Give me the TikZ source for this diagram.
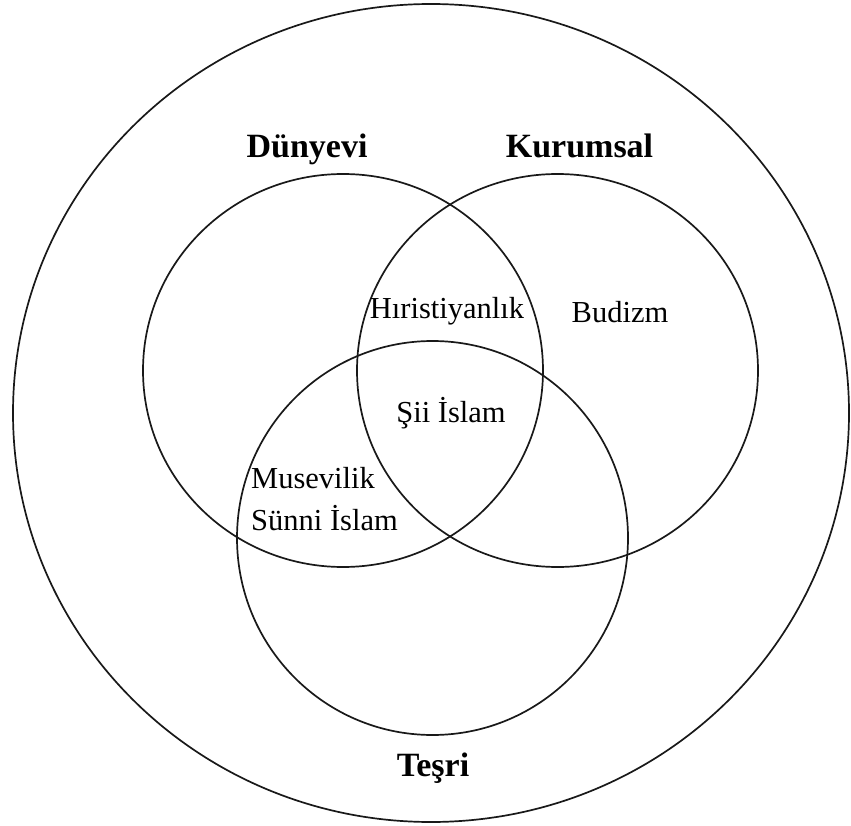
\documentclass[tikz,border=0pt]{standalone}
\usepackage{fontspec}
\setmainfont{Liberation Serif}
\begin{document}
\begin{tikzpicture}[x=1pt,y=-1pt,
  ring/.style={draw=black!90,line width=1.7pt},
  setlabel/.style={inner sep=0pt,anchor=base,font=\fontsize{34}{40}\selectfont\bfseries},
  member/.style={inner sep=0pt,anchor=base,font=\fontsize{30.5}{36}\selectfont},
  memberleft/.style={member,anchor=base west}]
\useasboundingbox[fill=white] (0,0) rectangle (851,826);
% circles
\draw[ring] (431,413) ellipse [x radius=418, y radius=409];
\draw[ring] (343,370.5) ellipse [x radius=200, y radius=196.5];
\draw[ring] (557.5,370.5) ellipse [x radius=200.5, y radius=196.5];
\draw[ring] (432.5,538) ellipse [x radius=195.5, y radius=197];
% set labels
\node[setlabel] (dunyevi) at (307,158) {Dünyevi};
\node[setlabel] (kurumsal) at (579.5,158) {Kurumsal};
\node[setlabel] (tesri) at (433,776) {Teşri};
% members
\node[member] (hiristiyanlik) at (447,318) {Hıristiyanlık};
\node[member] (budizm) at (620,322) {Budizm};
\node[member] (sii) at (451,422) {Şii İslam};
\node[memberleft] (musevilik) at (251,488) {Musevilik};
\node[memberleft] (sunni) at (251,530) {Sünni İslam};
\end{tikzpicture}
\end{document}
